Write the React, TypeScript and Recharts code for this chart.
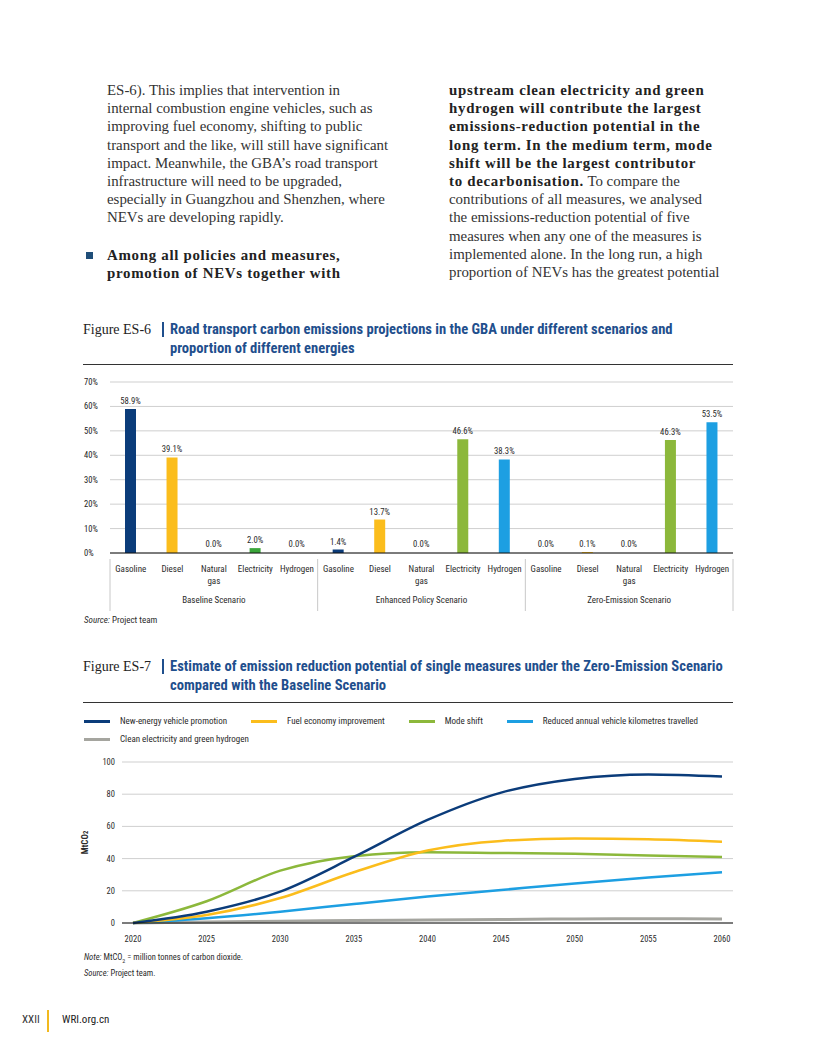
import React from 'react';
import {
  BarChart,
  Bar,
  Cell,
  LabelList,
  LineChart,
  Line,
  XAxis,
  YAxis,
  CartesianGrid,
} from 'recharts';

/* =======================
   Data
======================= */

const FUELS = ['Gasoline', 'Diesel', 'Natural gas', 'Electricity', 'Hydrogen'];
const SCENARIOS = ['Baseline Scenario', 'Enhanced Policy Scenario', 'Zero-Emission Scenario'];
const BASELINE_SHARE = [58.9, 39.1, 0.0, 2.0, 0.0];
const ENHANCED_SHARE = [1.4, 13.7, 0.0, 46.6, 38.3];
const ZERO_SHARE = [0.0, 0.1, 0.0, 46.3, 53.5];
const SHARE_TICKS = [0, 10, 20, 30, 40, 50, 60, 70];

const YEARS = [2020, 2025, 2030, 2035, 2040, 2045, 2050, 2055, 2060];
const NEV_PROMOTION = [0, 7, 19.5, 41, 64, 81, 89.5, 92.3, 91];
const FUEL_ECONOMY = [0, 5, 15.5, 31.5, 45, 51, 52.5, 52, 50.5];
const MODE_SHIFT = [0, 13.5, 32.5, 41.5, 44, 43.5, 43, 42, 41];
const REDUCED_VKT = [0, 3, 7, 11.8, 16.4, 20.5, 24.6, 28.2, 31.5];
const CLEAN_POWER_H2 = [0, 0.6, 1.1, 1.5, 1.9, 2.2, 2.5, 2.6, 2.5];
const MTCO2_TICKS = [0, 20, 40, 60, 80, 100];

/* =======================
   Colors / fonts
======================= */
const COLORS = {
  navy: '#0b3c7a',
  yellow: '#fbbd1c',
  green: '#8cb83b',
  darkGreen: '#3aa53a',
  blue: '#1d9fe2',
  gray: '#a5a59f',
  title: '#1f4f8d',
  grid: '#cfcfcf',
  text: '#2b2b2b',
};

const FUEL_COLORS = [COLORS.navy, COLORS.yellow, COLORS.gray, COLORS.green, COLORS.blue];

const NARROW = '"Liberation Sans Narrow", "Roboto Condensed", "Open Sans", sans-serif';
const SERIF = '"Liberation Serif", "DejaVu Serif", serif';

const SERIES = [
  { key: 'nev', name: 'New-energy vehicle promotion', values: NEV_PROMOTION, color: COLORS.navy },
  { key: 'fuel', name: 'Fuel economy improvement', values: FUEL_ECONOMY, color: COLORS.yellow },
  { key: 'mode', name: 'Mode shift', values: MODE_SHIFT, color: COLORS.green },
  { key: 'vkt', name: 'Reduced annual vehicle kilometres travelled', values: REDUCED_VKT, color: COLORS.blue },
  { key: 'clean', name: 'Clean electricity and green hydrogen', values: CLEAN_POWER_H2, color: COLORS.gray },
];

const shareRows = [BASELINE_SHARE, ENHANCED_SHARE, ZERO_SHARE].flatMap((values, s) =>
  FUELS.map((fuel, f) => ({
    key: `${s}-${f}`,
    fuel,
    scenario: SCENARIOS[s],
    value: values[f],
    // zero shares get no visible bar, only their label
    color: values[f] === 0 ? 'none' : s === 0 && f === 3 ? COLORS.darkGreen : FUEL_COLORS[f],
  })),
);

const lineRows = YEARS.map((year, i) => {
  const row: Record<string, number> = { year };
  SERIES.forEach((s) => {
    row[s.key] = s.values[i];
  });
  return row;
});

/* =======================
   Text
======================= */
const LEFT_LINES = [
  'ES-6). This implies that intervention in',
  'internal combustion engine vehicles, such as',
  'improving fuel economy, shifting to public',
  'transport and the like, will still have significant',
  'impact. Meanwhile, the GBA\u2019s road transport',
  'infrastructure will need to be upgraded,',
  'especially in Guangzhou and Shenzhen, where',
  'NEVs are developing rapidly.',
];
const BULLET_LINES = ['Among all policies and measures,', 'promotion of NEVs together with'];
const RIGHT_LINES: [string, string][] = [
  ['upstream clean electricity and green', ''],
  ['hydrogen will contribute the largest', ''],
  ['emissions-reduction potential in the', ''],
  ['long term. In the medium term, mode', ''],
  ['shift will be the largest contributor', ''],
  ['to decarbonisation.', ' To compare the'],
  ['', 'contributions of all measures, we analysed'],
  ['', 'the emissions-reduction potential of five'],
  ['', 'measures when any one of the measures is'],
  ['', 'implemented alone. In the long run, a high'],
  ['', 'proportion of NEVs has the greatest potential'],
];

const LINE_STEP = 18.2;

const bodyStyle: React.CSSProperties = {
  position: 'absolute',
  fontFamily: SERIF,
  fontSize: 14.9,
  color: '#333',
  whiteSpace: 'nowrap',
  lineHeight: '18px',
};

const boldStyle: React.CSSProperties = {
  fontWeight: 700,
  color: '#222',
  letterSpacing: 0.7,
};

/* =======================
   Pieces
======================= */
const FigureTitle = ({ label, lines, top }: { label: string; lines: string[]; top: number }) => (
  <>
    <div style={{ ...bodyStyle, left: 83, top, fontSize: 14, color: '#222', lineHeight: '19px' }}>{label}</div>
    <div style={{ position: 'absolute', left: 162, top: top + 2, width: 1.5, height: 15, background: COLORS.title }} />
    {lines.map((t, i) => (
      <div
        key={i}
        style={{
          position: 'absolute',
          left: 170,
          top: top + i * 19,
          fontFamily: NARROW,
          fontWeight: 700,
          fontSize: 14.6,
          lineHeight: '19px',
          color: COLORS.title,
          whiteSpace: 'nowrap',
        }}
      >
        {t}
      </div>
    ))}
  </>
);

const ShareTick = (props: any) => {
  const { x, y, payload, index } = props;
  const i = payload?.index ?? index;
  const half = payload?.offset ?? 623 / 15 / 2;
  const fuel = FUELS[i % 5];
  const words = fuel === 'Natural gas' ? ['Natural', 'gas'] : [fuel];
  return (
    <g>
      {words.map((w, k) => (
        <text
          key={k}
          x={x}
          y={y + 11 + k * 12}
          textAnchor="middle"
          fontFamily={NARROW}
          fontSize={9}
          fill={COLORS.text}
        >
          {w}
        </text>
      ))}
      {i % 5 === 2 && (
        <text x={x} y={y + 42} textAnchor="middle" fontFamily={NARROW} fontSize={9} fill={COLORS.text}>
          {SCENARIOS[Math.floor(i / 5)]}
        </text>
      )}
      {i % 5 === 0 && <line x1={x - half} x2={x - half} y1={y - 2} y2={y + 50} stroke="#c8c8c8" />}
      {i === FUELS.length * SCENARIOS.length - 1 && (
        <line x1={x + half} x2={x + half} y1={y - 2} y2={y + 50} stroke="#c8c8c8" />
      )}
    </g>
  );
};

const ShareYTick = (props: any) => {
  const { y, payload } = props;
  return (
    <text x={4} y={y + 3} textAnchor="start" fontFamily={NARROW} fontSize={8.5} fill="#222">
      {`${payload.value}%`}
    </text>
  );
};

/* =======================
   App
======================= */
export default function App() {
  return (
    <div
      style={{
        position: 'absolute',
        left: 0,
        top: 0,
        width: 816,
        height: 1056,
        background: '#fff',
        overflow: 'hidden',
      }}
    >
      {/* ---------- body text ---------- */}
      {LEFT_LINES.map((t, i) => (
        <div key={i} style={{ ...bodyStyle, left: 107, top: 81 + i * LINE_STEP }}>
          {t}
        </div>
      ))}
      <div style={{ position: 'absolute', left: 86, top: 252, width: 7, height: 7, background: '#1f4e79' }} />
      {BULLET_LINES.map((t, i) => (
        <div key={i} style={{ ...bodyStyle, ...boldStyle, left: 107, top: 246 + i * LINE_STEP }}>
          {t}
        </div>
      ))}
      {RIGHT_LINES.map(([b, n], i) => (
        <div key={i} style={{ ...bodyStyle, left: 449, top: 81 + i * LINE_STEP }}>
          {b && <span style={boldStyle}>{b}</span>}
          {n}
        </div>
      ))}

      {/* ---------- Figure ES-6 ---------- */}
      <FigureTitle
        label="Figure ES-6"
        top={320}
        lines={[
          'Road transport carbon emissions projections in the GBA under different scenarios and',
          'proportion of different energies',
        ]}
      />
      <div style={{ position: 'absolute', left: 83, top: 364, width: 650, height: 1, background: '#333' }} />

      <div style={{ position: 'absolute', left: 80, top: 370 }}>
        <BarChart width={660} height={250} data={shareRows} margin={{ top: 12, right: 7, bottom: 0, left: 0 }}>
          <CartesianGrid vertical={false} stroke={COLORS.grid} />
          <XAxis
            dataKey="key"
            interval={0}
            height={67}
            tickLine={false}
            axisLine={{ stroke: '#111' }}
            tick={<ShareTick />}
          />
          <YAxis
            domain={[0, 70]}
            ticks={SHARE_TICKS}
            width={30}
            axisLine={false}
            tickLine={false}
            tick={<ShareYTick />}
          />
          <Bar dataKey="value" barSize={11} minPointSize={1} isAnimationActive={false}>
            {shareRows.map((r) => (
              <Cell key={r.key} fill={r.color} />
            ))}
            <LabelList
              dataKey="value"
              position="top"
              offset={5}
              formatter={(v: any) => `${Number(v).toFixed(1)}%`}
              style={{ fontFamily: NARROW, fontSize: 8.7, fill: COLORS.text }}
            />
          </Bar>
        </BarChart>
      </div>

      <div style={{ position: 'absolute', left: 84, top: 615, fontFamily: NARROW, fontSize: 9, color: COLORS.text }}>
        <i>Source:</i> Project team
      </div>

      {/* ---------- Figure ES-7 ---------- */}
      <FigureTitle
        label="Figure ES-7"
        top={657}
        lines={[
          'Estimate of emission reduction potential of single measures under the Zero-Emission Scenario',
          'compared with the Baseline Scenario',
        ]}
      />
      <div style={{ position: 'absolute', left: 83, top: 702, width: 650, height: 1, background: '#333' }} />

      <div
        style={{
          position: 'absolute',
          left: 84,
          top: 715,
          width: 640,
          display: 'flex',
          flexWrap: 'wrap',
          columnGap: 24,
          rowGap: 6,
          fontFamily: NARROW,
          fontSize: 9,
          color: COLORS.text,
        }}
      >
        {SERIES.map((s) => (
          <div key={s.key} style={{ display: 'flex', alignItems: 'center', height: 12 }}>
            <span style={{ width: 26, height: 3, background: s.color, marginRight: 10, display: 'inline-block' }} />
            <span>{s.name}</span>
          </div>
        ))}
      </div>

      <div style={{ position: 'absolute', left: 80, top: 750 }}>
        <LineChart width={660} height={200} data={lineRows} margin={{ top: 12, right: 7, bottom: 0, left: 0 }}>
          <CartesianGrid vertical={false} stroke={COLORS.grid} />
          <XAxis
            dataKey="year"
            type="number"
            domain={[2020, 2060]}
            ticks={YEARS}
            padding={{ left: 11, right: 11 }}
            height={27}
            tickSize={0}
            tickMargin={13}
            axisLine={{ stroke: '#111' }}
            tick={{ fontFamily: NARROW, fontSize: 8.5, fill: COLORS.text }}
          />
          <YAxis
            domain={[0, 100]}
            ticks={MTCO2_TICKS}
            width={42}
            axisLine={false}
            tickSize={0}
            tickMargin={7}
            tick={{ fontFamily: NARROW, fontSize: 8.5, fill: COLORS.text }}
            label={{
              content: ({ viewBox }: any) => {
                const cx = 8;
                const cy = viewBox.y + viewBox.height / 2;
                return (
                  <text
                    x={cx}
                    y={cy}
                    transform={`rotate(-90 ${cx} ${cy})`}
                    textAnchor="middle"
                    fontFamily={NARROW}
                    fontWeight={700}
                    fontSize={9}
                    fill={COLORS.text}
                  >
                    MtCO<tspan fontSize={6.5}>2</tspan>
                  </text>
                );
              },
            }}
          />
          {SERIES.slice()
            .reverse()
            .map((s) => (
              <Line
                key={s.key}
                dataKey={s.key}
                type="monotone"
                stroke={s.color}
                strokeWidth={s.key === 'clean' ? 3 : 2.5}
                dot={false}
                isAnimationActive={false}
              />
            ))}
        </LineChart>
      </div>

      <div
        style={{
          position: 'absolute',
          left: 84,
          top: 951,
          fontFamily: NARROW,
          fontSize: 8.5,
          lineHeight: '12px',
          color: COLORS.text,
        }}
      >
        <div>
          <i>Note:</i> MtCO<sub style={{ fontSize: 6 }}>2</sub> = million tonnes of carbon dioxide.
        </div>
        <div>
          <i>Source:</i> Project team.
        </div>
      </div>

      {/* ---------- footer ---------- */}
      <div style={{ position: 'absolute', left: 22, top: 1013, fontFamily: NARROW, fontSize: 11, color: '#333' }}>
        XXII
      </div>
      <div style={{ position: 'absolute', left: 47, top: 1010, width: 1.5, height: 22, background: '#f2b91e' }} />
      <div style={{ position: 'absolute', left: 62, top: 1013, fontFamily: NARROW, fontSize: 11, color: '#222' }}>
        WRI.org.cn
      </div>
    </div>
  );
}
